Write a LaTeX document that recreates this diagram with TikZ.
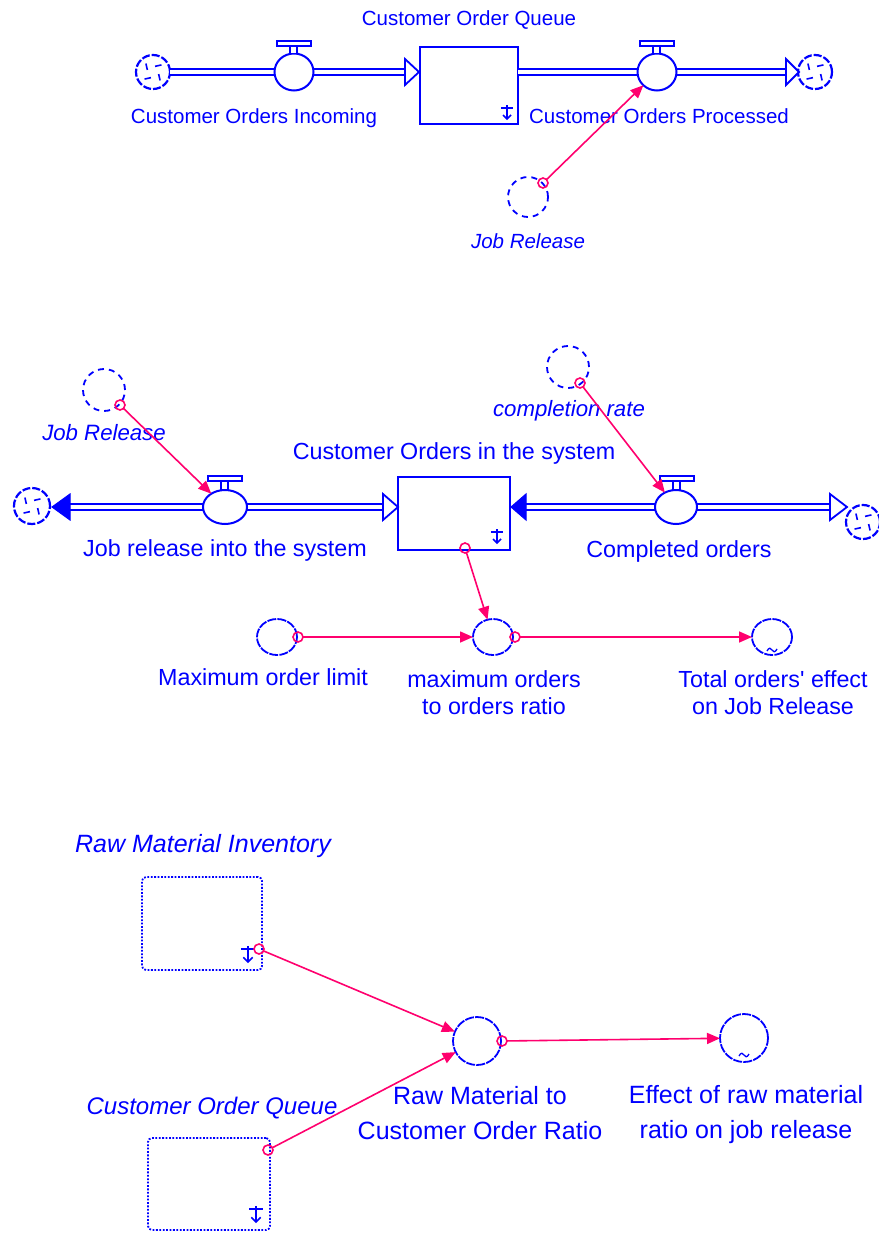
\documentclass[tikz,border=0pt]{standalone}
\usepackage{fontspec}
\setmainfont{Liberation Sans}
\usetikzlibrary{arrows.meta,shapes.geometric}
\definecolor{vblue}{RGB}{0,0,255}
\definecolor{vpink}{RGB}{255,0,110}
\newcommand\cloudhooks[1]{\foreach \a in {20,110,200,290}{\draw[vblue,line width=1.6pt] ([shift={(\a:6)}]#1.center) -- ([shift={(\a+30:11)}]#1.center);}}
\newcommand\valvetop[3]{%
  \draw[vblue,line width=1.8pt,fill=white] (#1-17,#2-31) rectangle (#1+17,#2-26);
  \draw[vblue,line width=1.8pt,fill=white] (#1-4,#2-26) rectangle (#1+3,#2-#3);}
\newcommand\stocksym[3]{%
  \begin{scope}[shift={(#1,#2)},scale=#3,vblue,line width=1.6pt]
  \draw (-6,-5) -- (6,-5);
  \draw (0,-8) -- (0,6);
  \draw (-4,2) -- (0,6) -- (4,2);
  \end{scope}}
\newcommand\tildesym[2]{\draw[vblue,line width=1.3pt] (#1-5,#2+1) .. controls (#1-3,#2-3) and (#1-1,#2-2) .. (#1,#2) .. controls (#1+1,#2+2) and (#1+3,#2+3) .. (#1+5,#2-1);}
\begin{document}
\begin{tikzpicture}[x=1pt,y=-1pt,
 every node/.style={inner sep=0pt,outer sep=0pt},
 pipe/.style={draw=vblue,line width=2pt,double=white,double distance=3.5pt},
 valve/.style={ellipse,draw=vblue,fill=white,line width=2pt},
 cloudn/.style={circle,draw=vblue,fill=white,line width=2.2pt,dash pattern=on 8pt off 2pt,minimum size=34pt},
 stockn/.style={rectangle,draw=vblue,fill=white,line width=2pt},
 dotstock/.style={rectangle,draw=vblue,line width=1.8pt,dash pattern=on 1.8pt off 1.6pt,rounded corners=4pt},
 ghost/.style={circle,draw=vblue,line width=1.8pt,dash pattern=on 6pt off 5pt},
 aux/.style={ellipse,draw=vblue,line width=1.8pt,dash pattern=on 9pt off 1.2pt},
 tap/.style={circle,draw=vpink,line width=1.6pt,minimum size=10pt},
 conn/.style={draw=vpink,line width=1.6pt,-{Triangle[length=13pt,width=11pt]}},
 hollowtip/.style={draw=vblue,fill=white,line width=1.8pt,line join=miter},
 solidtip/.style={draw=vblue,fill=vblue,line width=1pt},
 lab/.style={text=vblue,anchor=base,align=center},
 s1/.style={font=\fontsize{20.5}{24}\selectfont},
 s2/.style={font=\fontsize{23.3}{27}\selectfont},
 s3/.style={font=\fontsize{25}{35}\selectfont}]
\fill[white] (0,0) rectangle (878,1233);
\useasboundingbox (0,0) rectangle (878,1233);

% ---------------- Section 1 ----------------
\coordinate (a1b) at (405,72);
\coordinate (a2b) at (786,72);
\node[cloudn] (cl1) at (153,72) {};
\node[cloudn] (cl2) at (815,72) {};
\node[stockn,minimum width=98pt,minimum height=77pt] (coq) at (469,85.5) {};
\draw[pipe] (cl1.east) -- (a1b);
\draw[pipe] (coq.east |- a2b) -- (a2b);
\draw[hollowtip] (405,59) -- (419,72) -- (405,85) -- cycle;
\draw[hollowtip] (786,59) -- (799,72) -- (786,85) -- cycle;
\node[valve,minimum width=39pt,minimum height=37pt] (coi) at (294,72) {};
\valvetop{294}{72}{18.5}
\node[valve,minimum width=39pt,minimum height=37pt] (cop) at (657,72) {};
\valvetop{657}{72}{18.5}
\cloudhooks{cl1}
\cloudhooks{cl2}
\stocksym{507}{113}{1}
\node[lab,s1] (lcoq) at (469,25.4) {Customer Order Queue};
\node[lab,s1] (lcoi) at (254,123.4) {Customer Orders Incoming};
\node[lab,s1] (lcop) at (659,123.4) {Customer Orders Processed};
\node[ghost,minimum size=40pt] (jr1) at (528,197) {};
\node[lab,font=\fontsize{20.5}{24}\selectfont\itshape] (ljr1) at (528,248.4) {Job Release};
\node[tap] (t1) at (543,183) {};
\draw[conn] (t1) -- (cop);

% ---------------- Section 2 ----------------
\coordinate (p2a) at (70,507);
\coordinate (p2b) at (383,507);
\coordinate (p2c) at (526,507);
\coordinate (p2d) at (830,507);
\node[cloudn,minimum size=36pt] (cl3) at (32,506) {};
\node[cloudn] (cl4) at (863,522) {};
\node[stockn,minimum width=112pt,minimum height=73pt] (cos) at (454,513.5) {};
\draw[pipe] (p2a) -- (p2b);
\draw[pipe] (p2c) -- (p2d);
\draw[solidtip] (52,507) -- (70,494) -- (70,520) -- cycle;
\draw[hollowtip] (383,494) -- (398,507) -- (383,520) -- cycle;
\draw[solidtip] (511,507) -- (526,494) -- (526,520) -- cycle;
\draw[hollowtip] (830,494) -- (847,507) -- (830,520) -- cycle;
\node[valve,minimum width=44pt,minimum height=34pt] (jris) at (225,507) {};
\valvetop{225}{507}{17}
\node[valve,minimum width=42pt,minimum height=34pt] (cpo) at (676,507) {};
\valvetop{677}{507}{17}
\cloudhooks{cl3}
\cloudhooks{cl4}
\stocksym{497}{537}{1}
\node[lab,s2] (lcos) at (454,459.4) {Customer Orders in the system};
\node[lab,s2] (ljris) at (225,556.4) {Job release into the system};
\node[lab,s2] (lcpo) at (679,557.4) {Completed orders};
\node[ghost,minimum size=42pt] (jr2) at (104,390) {};
\node[lab,font=\fontsize{22.2}{26}\selectfont\itshape] (ljr2) at (104,440.4) {Job Release};
\node[ghost,minimum size=42pt] (cr) at (568,367) {};
\node[lab,font=\fontsize{22.2}{26}\selectfont\itshape] (lcr) at (569,416) {completion rate};
\node[tap] (t2) at (120,405) {};
\draw[conn] (t2) -- (jris);
\node[tap] (t3) at (580,383) {};
\draw[conn] (t3) -- (cpo);
\node[aux,minimum width=40pt,minimum height=36pt] (mol) at (277,637) {};
\node[aux,minimum width=40pt,minimum height=36pt] (mor) at (493,637) {};
\node[aux,minimum width=40pt,minimum height=36pt] (toe) at (772,637) {};
\tildesym{772}{650}
\node[tap] (t4) at (465,548) {};
\draw[conn] (t4) -- (mor);
\node[tap] (t5) at (298,637) {};
\draw[conn] (t5) -- (mor);
\node[tap] (t6) at (515,637) {};
\draw[conn] (t6) -- (toe);
\node[lab,s2] (lmol) at (263,685.4) {Maximum order limit};
\node[lab,s2] (lmor) at (494,714.4) {maximum orders\\to orders ratio};
\node[lab,s2] (ltoe) at (773,714.4) {Total orders\textquotesingle{} effect\\on Job Release};

% ---------------- Section 3 ----------------
\node[dotstock,minimum width=120pt,minimum height=93pt] (rmi) at (202,923.5) {};
\node[dotstock,minimum width=122pt,minimum height=92pt] (coq2) at (209,1184) {};
\stocksym{248}{955}{1.15}
\stocksym{256}{1215}{1.15}
\node[lab,font=\fontsize{25}{30}\selectfont\itshape] (lrmi) at (203,852) {Raw Material Inventory};
\node[lab,font=\fontsize{24}{30}\selectfont\itshape] (lcoq2) at (212,1114) {Customer Order Queue};
\node[aux,minimum size=48pt] (rmr) at (477,1041) {};
\node[aux,minimum size=48pt] (erm) at (744,1038) {};
\tildesym{744}{1055}
\node[tap] (t7) at (259,949) {};
\draw[conn] (t7) -- (rmr);
\node[tap] (t8) at (268,1150) {};
\draw[conn] (t8) -- (rmr);
\node[tap] (t9) at (502,1041) {};
\draw[conn] (t9) -- (erm);
\node[lab,s3] (lrmr) at (480,1139) {Raw Material to\\Customer Order Ratio};
\node[lab,s3] (lerm) at (746,1138) {Effect of raw material\\ratio on job release};
\end{tikzpicture}
\end{document}
